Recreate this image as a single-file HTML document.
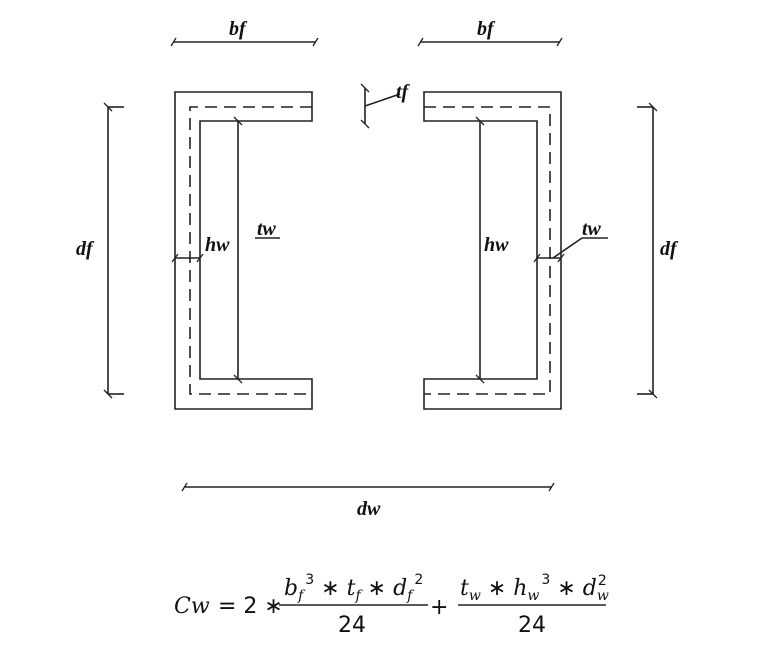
<!DOCTYPE html>
<html><head><meta charset="utf-8"><style>
body{margin:0;background:#fff}
svg{display:block}
.l{font-family:"Liberation Serif",serif;font-weight:bold;font-style:italic;font-size:20px;fill:#111}
.m{font-family:"DejaVu Sans","Liberation Sans",sans-serif;font-size:22px;fill:#111}
.mi{font-family:"DejaVu Serif","Liberation Serif",serif;font-style:italic;font-size:22px;fill:#111}
.s{font-size:14px}
.op{font-family:"DejaVu Sans",sans-serif;font-style:normal}
</style></head><body>
<svg width="761" height="669" viewBox="0 0 761 669" xmlns="http://www.w3.org/2000/svg">
<g stroke="#222" stroke-width="1.6" fill="none">
<path d="M312,92 H175 V409 H312 V379 H200 V121 H312 Z"/>
<path d="M312,107 H190 V394 H312" stroke-dasharray="12,7"/>
<path d="M424,92 H561 V409 H424 V379 H537 V121 H424 Z"/>
<path d="M424,107 H550 V394 H424" stroke-dasharray="12,7"/>
<line x1="238" y1="121" x2="238" y2="379"/>
<line x1="480" y1="121" x2="480" y2="379"/>
<line x1="108" y1="107" x2="108" y2="394"/>
<line x1="108" y1="107" x2="124" y2="107"/>
<line x1="108" y1="394" x2="124" y2="394"/>
<line x1="653" y1="107" x2="653" y2="394"/>
<line x1="637" y1="107" x2="653" y2="107"/>
<line x1="637" y1="394" x2="653" y2="394"/>
<line x1="174" y1="42" x2="316" y2="42"/>
<line x1="421" y1="42" x2="560" y2="42"/>
<line x1="185" y1="487" x2="552" y2="487"/>
<line x1="365" y1="88" x2="365" y2="124"/>
<line x1="365" y1="106" x2="400" y2="94"/>
<line x1="175" y1="258" x2="200" y2="258"/>
<line x1="537" y1="258" x2="561" y2="258"/>
<line x1="553" y1="258" x2="582" y2="238"/>
<line x1="582" y1="238" x2="608" y2="238"/>
<line x1="255" y1="238" x2="280" y2="238"/>
<g stroke-width="1.3">
<path d="M171,46 l5,-8 M313,46 l5,-8 M418,46 l5,-8 M557,46 l5,-8 M182,491 l5,-8 M549,491 l5,-8"/>
<path d="M104,103 l8,8 M104,390 l8,8 M649,103 l8,8 M649,390 l8,8"/>
<path d="M361,84 l8,8 M361,120 l8,8 M234,117 l8,8 M234,375 l8,8 M476,117 l8,8 M476,375 l8,8"/>
<path d="M172,262 l6,-8 M197,262 l6,-8 M534,262 l6,-8 M558,262 l6,-8"/>
</g>
</g>
<text class="l" x="229" y="35">bf</text>
<text class="l" x="477" y="35">bf</text>
<text class="l" x="396" y="98">tf</text>
<text class="l" x="76" y="255">df</text>
<text class="l" x="660" y="255">df</text>
<text class="l" x="205" y="251">hw</text>
<text class="l" x="484" y="251">hw</text>
<text class="l" x="257" y="235">tw</text>
<text class="l" x="582" y="235">tw</text>
<text class="l" x="357" y="515">dw</text>
<text class="mi" x="174" y="613">Cw</text>
<text class="m" x="218" y="613">= 2 ∗</text>
<line x1="279" y1="605" x2="428" y2="605" stroke="#222" stroke-width="1.5"/>
<text class="mi" x="284" y="595">b<tspan class="s" dy="5">f</tspan><tspan class="s op" dx="2" dy="-16">3</tspan><tspan class="op" dy="11"> ∗ </tspan>t<tspan class="s" dy="5">f</tspan><tspan class="op" dy="-5"> ∗ </tspan>d<tspan class="s" dy="5">f</tspan><tspan class="s op" dx="2" dy="-16">2</tspan></text>
<text class="m" x="338" y="632">24</text>
<text class="m" x="430" y="614">+</text>
<line x1="458" y1="605" x2="606" y2="605" stroke="#222" stroke-width="1.5"/>
<text class="mi" x="460" y="595">t<tspan class="s" dy="5">w</tspan><tspan class="op" dy="-5"> ∗ </tspan>h<tspan class="s" dy="5">w</tspan><tspan class="s op" dx="2" dy="-16">3</tspan><tspan class="op" dy="11"> ∗ </tspan>d<tspan class="s" dy="5">w</tspan><tspan class="s op" dx="-11" dy="-15">2</tspan></text>
<text class="m" x="518" y="632">24</text>
</svg>
</body></html>
